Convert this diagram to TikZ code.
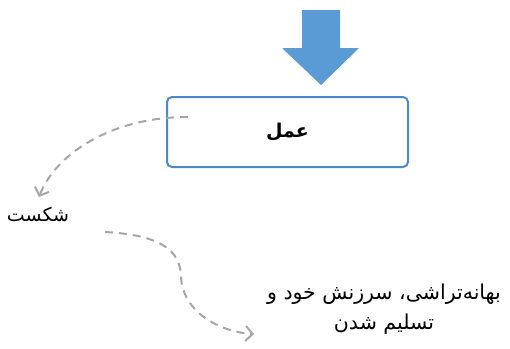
\documentclass[tikz,border=0pt]{standalone}
\usepackage{fontspec}
\usetikzlibrary{arrows.meta}
\TeXXeTstate=1
\newfontfamily\arabicfont[Script=Arabic]{DejaVu Sans}
\definecolor{arrowblue}{HTML}{5B9BD5}
\definecolor{boxblue}{HTML}{4F88C6}
\definecolor{dashgray}{HTML}{A6A6A6}
\tikzset{
  actbox/.style={draw=boxblue, line width=2pt, rounded corners=5pt, fill=white, minimum width=241pt, minimum height=70pt, inner sep=0pt},
  flowtext/.style={font=\arabicfont\fontsize{19}{30}\selectfont, align=center, inner sep=0pt},
  dashlink/.style={draw=dashgray, line width=2pt, dash pattern=on 8pt off 6pt, -{Straight Barb[length=7pt,width=15pt,line width=2pt]}}
}
\begin{document}
\begin{tikzpicture}[x=1pt,y=-1pt]
\useasboundingbox (0,0) rectangle (510,348);
% big down arrow
\fill[arrowblue] (302,10) -- (340,10) -- (340,48) -- (359,48) -- (321,85) -- (282,48) -- (302,48) -- cycle;
\node[actbox] (act) at (287.5,132) {};
\node[font=\arabicfont\bfseries\fontsize{19}{22}\selectfont, inner sep=0pt] (actlabel) at (287.5,132) {\beginR عمل\endR};
\coordinate (s1) at (188,117);
\node[flowtext] (fail) at (38,214) {\beginR شکست\endR};
\coordinate (s2) at (105,232);
\coordinate (m2) at (181,276);
\node[flowtext, font=\arabicfont\fontsize{20.5}{30}\selectfont] (excuse) at (384,309) {\beginR بهانه‌تراشی، سرزنش خود و\endR\\\beginR تسلیم شدن\endR};
\coordinate (e2) at (254,334);
\draw[dashlink] (s1) .. controls (110,117) and (55,155) .. (39,197);
\draw[dashlink] (s2) .. controls (160,235) and (180,250) .. (m2) .. controls (182,312) and (220,332) .. (e2);
\end{tikzpicture}
\end{document}
